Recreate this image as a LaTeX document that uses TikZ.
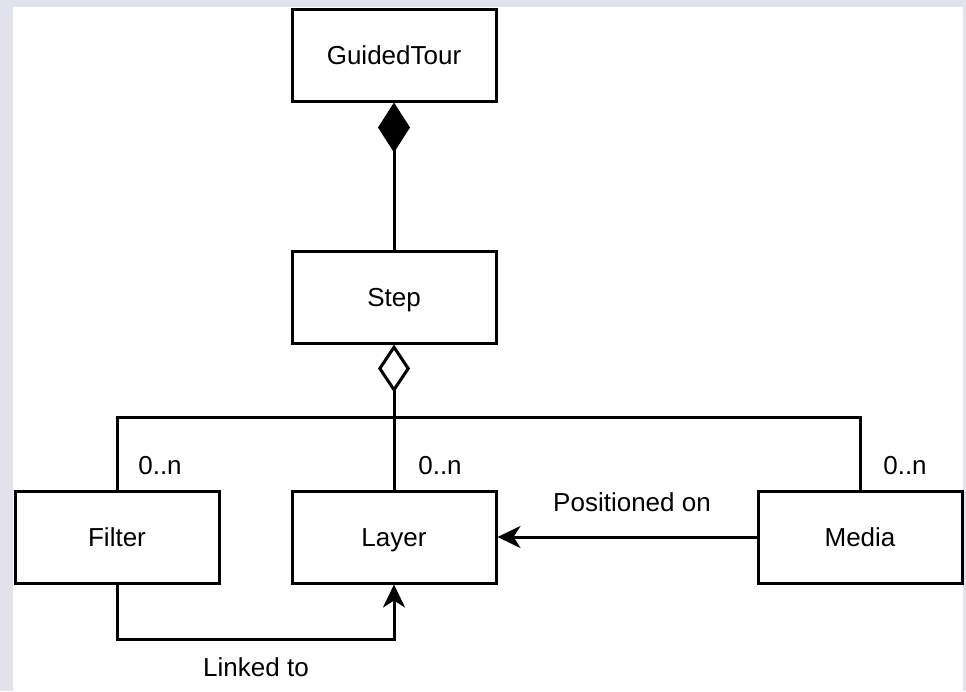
\documentclass[tikz,border=0pt]{standalone}
\usepackage{fontspec}
\setmainfont{Liberation Sans}
\usetikzlibrary{arrows.meta}
\definecolor{bgframe}{HTML}{E1E2EC}
\begin{document}
\begin{tikzpicture}[x=1pt,y=-1pt,
  cls/.style={draw=black,line width=3pt,fill=white,minimum width=204pt,minimum height=92pt,inner sep=0pt,text height=18pt,text depth=0pt,font=\fontsize{26}{31}\selectfont},
  lbl/.style={font=\fontsize{26}{31}\selectfont,inner sep=0pt},
  conn/.style={line width=3pt,draw=black},
  navtip/.tip={Stealth[length=23pt,width=22pt,inset=7pt]}
]
\useasboundingbox (0,0) rectangle (966,691);
\fill[bgframe] (0,0) rectangle (966,691);
\fill[white] (13,7) rectangle (963,691);

\node[cls] (guided) at (394,55) {GuidedTour};
\node[cls] (step) at (394,297) {Step};
\node[cls] (filter) at (117,537) {Filter};
\node[cls] (layer) at (394,537) {Layer};
\node[cls] (media) at (860,537) {Media};

\coordinate (j) at (394,417);

\draw[conn,{Diamond[length=50pt,width=32pt]}-] (guided.south) -- (step.north);
\draw[conn,{Diamond[open,fill=white,length=48pt,width=32pt]}-] (step.south) -- (layer.north);
\draw[conn] (filter.north) |- (j) -| (media.north);
\draw[conn,-{navtip}] (media.west) -- (layer.east);
\draw[conn,-{navtip}] (filter.south) -- ++(0,55) -| (layer.south);

\node[lbl] (m1) at (160,466) {0..n};
\node[lbl] (m2) at (440,466) {0..n};
\node[lbl] (m3) at (905,466) {0..n};
\node[lbl] (pos) at (632,502) {Positioned on};
\node[lbl] (lnk) at (256,667) {Linked to};
\end{tikzpicture}
\end{document}
